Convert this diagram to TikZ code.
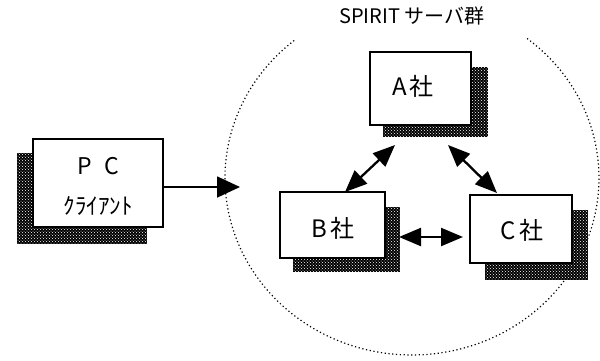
\documentclass[tikz,border=0pt]{standalone}
\usepackage{fontspec}
\setmainfont{Noto Sans CJK JP}
\usetikzlibrary{arrows.meta,patterns}

\tikzset{
  box/.style={draw=black, line width=1.8pt, fill=white, inner sep=0pt},
  shadowfill/.style={fill=black, postaction={pattern=crosshatch dots, pattern color=white}},
  link/.style={line width=2.3pt, {Triangle[length=22pt,width=18pt]}-{Triangle[length=22pt,width=18pt]}},
  oneway/.style={line width=1.8pt, -{Triangle[length=23pt,width=21pt]}},
  lbl/.style={font=\fontsize{24}{26}\selectfont},
  boundary/.style={line width=1.2pt, dash pattern=on 1.2pt off 2.6pt}
}

\begin{document}
\begin{tikzpicture}[x=1pt,y=-1pt]
\useasboundingbox (0,0) rectangle (600,360);

% server group boundary, open at the top below the title
\draw[boundary] (527.1,38.5) arc [start angle=-52, end angle=231, x radius=187, y radius=177];
\node[font=\fontsize{20}{22}\selectfont] (title) at (412,16) {SPIRIT サーバ群};

% drop shadows
\path[shadowfill] (17,153) rectangle (147,244);
\path[shadowfill] (383,67) rectangle (488,137);
\path[shadowfill] (293,207) rectangle (400,272);
\path[shadowfill] (485,210) rectangle (588,280);

% boxes
\node[box, minimum width=130pt, minimum height=88pt] (pc) at (98,183) {};
\node[font=\fontsize{23}{25}\selectfont] (pcA) at (98,166) {P\hspace{0.55em}C};
\node[font=\fontsize{23}{25}\selectfont] (pcB) at (98,206) {ｸﾗｲｱﾝﾄ};
\node[box, minimum width=101pt, minimum height=73pt] (A) at (420.5,88.5) {};
\node[lbl] (Alab) at (413,86) {A\hspace{0.12em}社};
\node[box, minimum width=105pt, minimum height=66pt] (B) at (332.5,225) {};
\node[lbl] (Blab) at (333,228) {B\hspace{0.12em}社};
\node[box, minimum width=102pt, minimum height=68pt] (C) at (521,229) {};
\node[lbl] (Clab) at (522,230) {C\hspace{0.12em}社};

% connectors
\coordinate (entry) at (240,187);
\draw[oneway] (pc.east |- entry) -- (entry);

\coordinate (ab1) at (395,145);
\coordinate (ab2) at (345,192);
\draw[link] (ab1) -- (ab2);
\coordinate (ac1) at (448,145);
\coordinate (ac2) at (497,193);
\draw[link] (ac1) -- (ac2);
\coordinate (bc1) at (399,237);
\coordinate (bc2) at (463,237);
\draw[link] (bc1) -- (bc2);
\end{tikzpicture}
\end{document}
